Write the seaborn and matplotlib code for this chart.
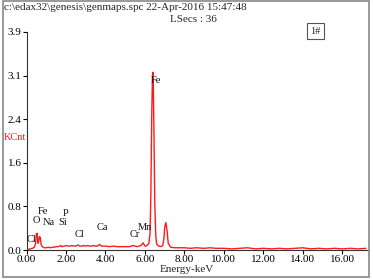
import numpy as np
import pandas as pd
import matplotlib
matplotlib.use("Agg")
import matplotlib.pyplot as plt
from matplotlib.patches import Rectangle
import seaborn as sns

# spectrum (keV, KCnt)
energy = [0.00, 0.10, 0.20, 0.30, 0.40, 0.46, 0.50, 0.54, 0.58, 0.62, 0.66, 0.70, 0.74, 0.80, 0.90,
          1.00, 1.10, 1.20, 1.30, 1.40, 1.50, 1.60, 1.70, 1.74, 1.80, 1.90, 2.00, 2.10, 2.20, 2.30,
          2.40, 2.50, 2.62, 2.70, 2.80, 2.90, 3.00, 3.10, 3.20, 3.30, 3.40, 3.50, 3.60, 3.69, 3.80,
          3.90, 4.00, 4.20, 4.40, 4.60, 4.80, 5.00, 5.20, 5.41, 5.60, 5.80, 5.90, 6.00, 6.10, 6.20,
          6.26, 6.30, 6.34, 6.38, 6.40, 6.42, 6.46, 6.50, 6.55, 6.60, 6.70, 6.80, 6.90, 6.96, 7.00,
          7.06, 7.12, 7.18, 7.30, 7.50, 7.70, 8.00, 8.30, 8.60, 9.00, 9.30, 9.60, 10.00, 10.40, 10.80,
          11.20, 11.60, 12.00, 12.40, 12.80, 13.20, 13.60, 14.00, 14.40, 14.80, 15.20, 15.60, 16.00,
          16.40, 16.80, 17.20]
kcnt = [0.00, 0.01, 0.02, 0.03, 0.05, 0.12, 0.29, 0.30, 0.12, 0.16, 0.24, 0.22, 0.10, 0.06, 0.04,
        0.04, 0.05, 0.04, 0.05, 0.05, 0.06, 0.06, 0.07, 0.08, 0.06, 0.07, 0.08, 0.07, 0.07, 0.08,
        0.07, 0.07, 0.09, 0.07, 0.07, 0.08, 0.07, 0.08, 0.07, 0.07, 0.08, 0.07, 0.07, 0.10, 0.07,
        0.07, 0.07, 0.06, 0.07, 0.06, 0.06, 0.06, 0.06, 0.08, 0.06, 0.08, 0.13, 0.07, 0.08, 0.12,
        0.30, 1.00, 2.30, 3.10, 3.18, 3.05, 2.00, 0.80, 0.25, 0.10, 0.07, 0.06, 0.08, 0.20, 0.40,
        0.49, 0.35, 0.12, 0.05, 0.04, 0.04, 0.04, 0.03, 0.04, 0.03, 0.04, 0.03, 0.03, 0.02, 0.03,
        0.04, 0.02, 0.03, 0.02, 0.03, 0.02, 0.03, 0.04, 0.02, 0.03, 0.02, 0.03, 0.02,
        0.03, 0.02, 0.03]

# element labels and where they sit (keV, KCnt)
elements = ["Cl", "O", "Fe", "Na", "P", "Si", "Cl", "Ca", "Cr", "Mn", "Fe"]
elem_x = [0.23, 0.48, 0.84, 1.14, 2.00, 1.85, 2.71, 3.82, 5.49, 6.00, 6.56]
elem_y = [0.18, 0.52, 0.68, 0.50, 0.66, 0.50, 0.27, 0.41, 0.27, 0.41, 3.04]

xticks = [0, 2, 4, 6, 8, 10, 12, 14, 16]
ytick_labels = ["0.0", "0.8", "1.6", "2.4", "3.1", "3.9"]

sns.set_style("ticks")
plt.rcParams["font.family"] = ["Liberation Serif", "DejaVu Serif"]

fig = plt.figure(figsize=(3.73, 2.79), dpi=100)
W, H = 373.0, 279.0
ax = fig.add_axes([26.5 / W, (H - 250) / H, (368 - 26.5) / W, (250 - 32) / H])

df = pd.DataFrame({"energy": energy, "kcnt": kcnt})
sns.lineplot(data=df, x="energy", y="kcnt", ax=ax, color="#ff1a1a", linewidth=1.0)

ax.set_xlim(0, 17.3)
ax.set_ylim(0, 3.9)
ax.set_xticks(xticks)
ax.set_xticklabels(["%.2f" % t for t in xticks])
ax.set_yticks(np.linspace(0, 3.9, 6))
ax.set_yticklabels(ytick_labels)
ax.tick_params(labelsize=8, length=3, width=0.8, pad=0.5, colors="black")
ax.set_xlabel("")
ax.set_ylabel("")
for s in ["top", "right"]:
    ax.spines[s].set_visible(False)
for s in ["left", "bottom"]:
    ax.spines[s].set_color("#333333")

for name, ex, ey in zip(elements, elem_x, elem_y):
    ax.text(ex, ey, name, fontsize=7.5, ha="center", va="center", color="#111111")

# header and axis captions
fig.text(4 / W, 1 - 8 / H, r"c:\edax32\genesis\genmaps.spc 22-Apr-2016 15:47:48",
         fontsize=8, ha="left", va="center")
fig.text(193 / W, 1 - 20 / H, "LSecs : 36", fontsize=8, ha="center", va="center")
fig.text(315.5 / W, 1 - 31 / H, "1#", fontsize=7.5, ha="center", va="center",
         bbox=dict(boxstyle="square,pad=0.3", fc="white", ec="#555555", lw=0.8))
fig.text(4 / W, 1 - 138 / H, "KCnt", fontsize=7.5, color="#ff1a1a", ha="left", va="center")
fig.text(187 / W, 1 - 269 / H, "Energy-keV", fontsize=8, ha="center", va="center")

fig.patches.append(Rectangle((3 / W, 2 / H), 366 / W, 276 / H, transform=fig.transFigure,
                             fill=False, ec="#888888", lw=1.2))

fig.savefig("out.png", dpi=100)
